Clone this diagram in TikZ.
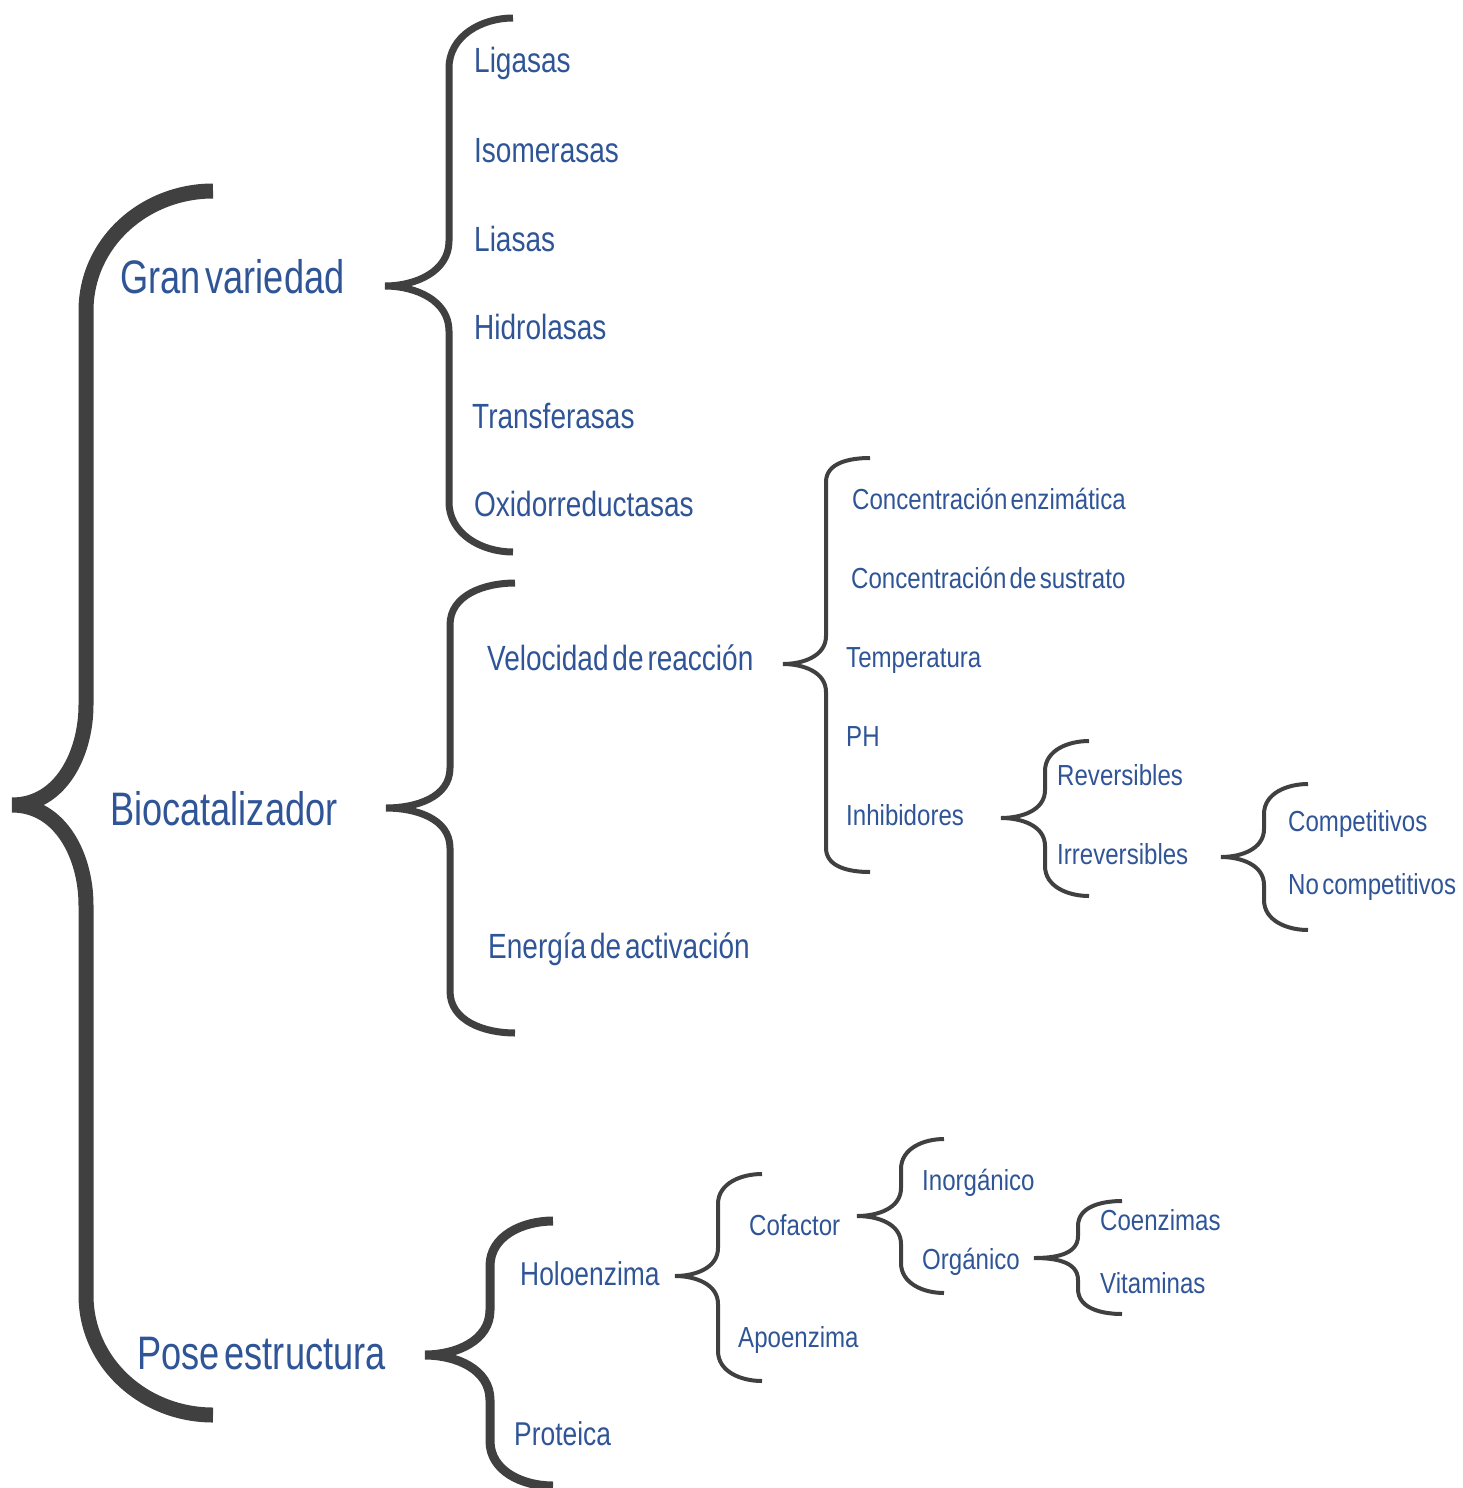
\documentclass[tikz,border=0pt]{standalone}
\usepackage{fontspec}
\setmainfont{Liberation Sans}[FakeStretch=0.8,WordSpace=0.5]
\newfontfamily\fuentecero{Liberation Sans}[FakeStretch=0.77,WordSpace=0.5]
\newfontfamily\fuentetres{Liberation Sans}[FakeStretch=0.83,WordSpace=0.5]
\definecolor{azul}{HTML}{2F5597}
\definecolor{gris}{HTML}{404040}

% brace: #1 style, #2/#3 tip x/y, #4 spine x, #5 end x, #6 top y, #7 bottom y, #8 corner, #9 arm
\newcommand{\llave}[9]{%
  \draw[#1] (#5,-#6) to[out=180,in=90] (#4,{-(#6+#8)}) -- (#4,{-(#3-#9)})
    to[out=-90,in=0] (#2,-#3) to[out=0,in=90] (#4,{-(#3+#9)})
    -- (#4,{-(#7-#8)}) to[out=-90,in=180] (#5,-#7);}

\begin{document}
\begin{tikzpicture}[
  x=1pt, y=1pt,
  every node/.style={anchor=base west, inner sep=0pt, text=azul},
  nivel0/.style={font=\fuentecero\fontsize{47}{50}\selectfont},
  nivel1/.style={font=\fontsize{35}{38}\selectfont},
  nivel2/.style={font=\fontsize{33}{36}\selectfont},
  nivel3/.style={font=\fuentetres\fontsize{29}{32}\selectfont},
  llave/.style={draw=gris, line width=4pt}
]
\useasboundingbox (0,0) rectangle (1463,-1488);

% Main brace
\llave{llave, line width=15pt}{12}{805}{86}{213}{191}{1415}{120}{100}
\node[nivel0] (gran) at (120,-293) {Gran variedad};
\node[nivel0] (bio) at (110,-825) {Biocatalizador};
\node[nivel0] (pose) at (137,-1369) {Pose estructura};

% Gran variedad
\llave{llave, line width=7pt}{385}{286}{449}{513}{18}{552}{50}{45}
\node[nivel1] (ligasas) at (474,-73) {Ligasas};
\node[nivel1] (isomerasas) at (474,-162) {Isomerasas};
\node[nivel1] (liasas) at (474,-251) {Liasas};
\node[nivel1] (hidrolasas) at (474,-339) {Hidrolasas};
\node[nivel1] (transferasas) at (472,-428) {Transferasas};
\node[nivel1] (oxidorreductasas) at (474,-516) {Oxidorreductasas};

% Biocatalizador
\llave{llave, line width=7pt}{386}{808}{450}{515}{583}{1033}{42}{40}
\node[nivel1] (velocidad) at (487,-670) {Velocidad de reacción};
\node[nivel1] (energia) at (488,-958) {Energía de activación};

% Velocidad de reaccion
\llave{llave}{783}{664}{826}{870}{458}{872}{24}{28}
\node[nivel3] (conenz) at (852,-509) {Concentración enzimática};
\node[nivel3] (consus) at (851,-588) {Concentración de sustrato};
\node[nivel3] (temp) at (846,-667) {Temperatura};
\node[nivel3] (ph) at (846,-746) {PH};
\node[nivel3] (inhib) at (846,-825) {Inhibidores};

% Inhibidores
\llave{llave}{1001}{818}{1045}{1089}{741}{896}{30}{28}
\node[nivel3] (rev) at (1057,-785) {Reversibles};
\node[nivel3] (irrev) at (1057,-864) {Irreversibles};

% Irreversibles
\llave{llave}{1221}{857}{1264}{1308}{784}{930}{30}{28}
\node[nivel3] (comp) at (1288,-831) {Competitivos};
\node[nivel3] (nocomp) at (1288,-894) {No competitivos};

% Pose estructura
\llave{llave, line width=9pt}{425}{1355}{490}{553}{1221}{1486}{45}{45}
\node[nivel2] (holo) at (520,-1285) {Holoenzima};
\node[nivel2] (proteica) at (514,-1445) {Proteica};

% Holoenzima
\llave{llave}{675}{1276}{718}{762}{1174}{1381}{30}{28}
\node[nivel3] (cofactor) at (749,-1235) {Cofactor};
\node[nivel3] (apo) at (738,-1347) {Apoenzima};

% Cofactor
\llave{llave}{857}{1216}{901}{944}{1139}{1293}{30}{28}
\node[nivel3] (inorg) at (922,-1190) {Inorgánico};
\node[nivel3] (org) at (922,-1269) {Orgánico};

% Organico
\llave{llave}{1034}{1258}{1078}{1122}{1201}{1314}{25}{22}
\node[nivel3] (coenz) at (1100,-1230) {Coenzimas};
\node[nivel3] (vit) at (1100,-1293) {Vitaminas};
\end{tikzpicture}
\end{document}
